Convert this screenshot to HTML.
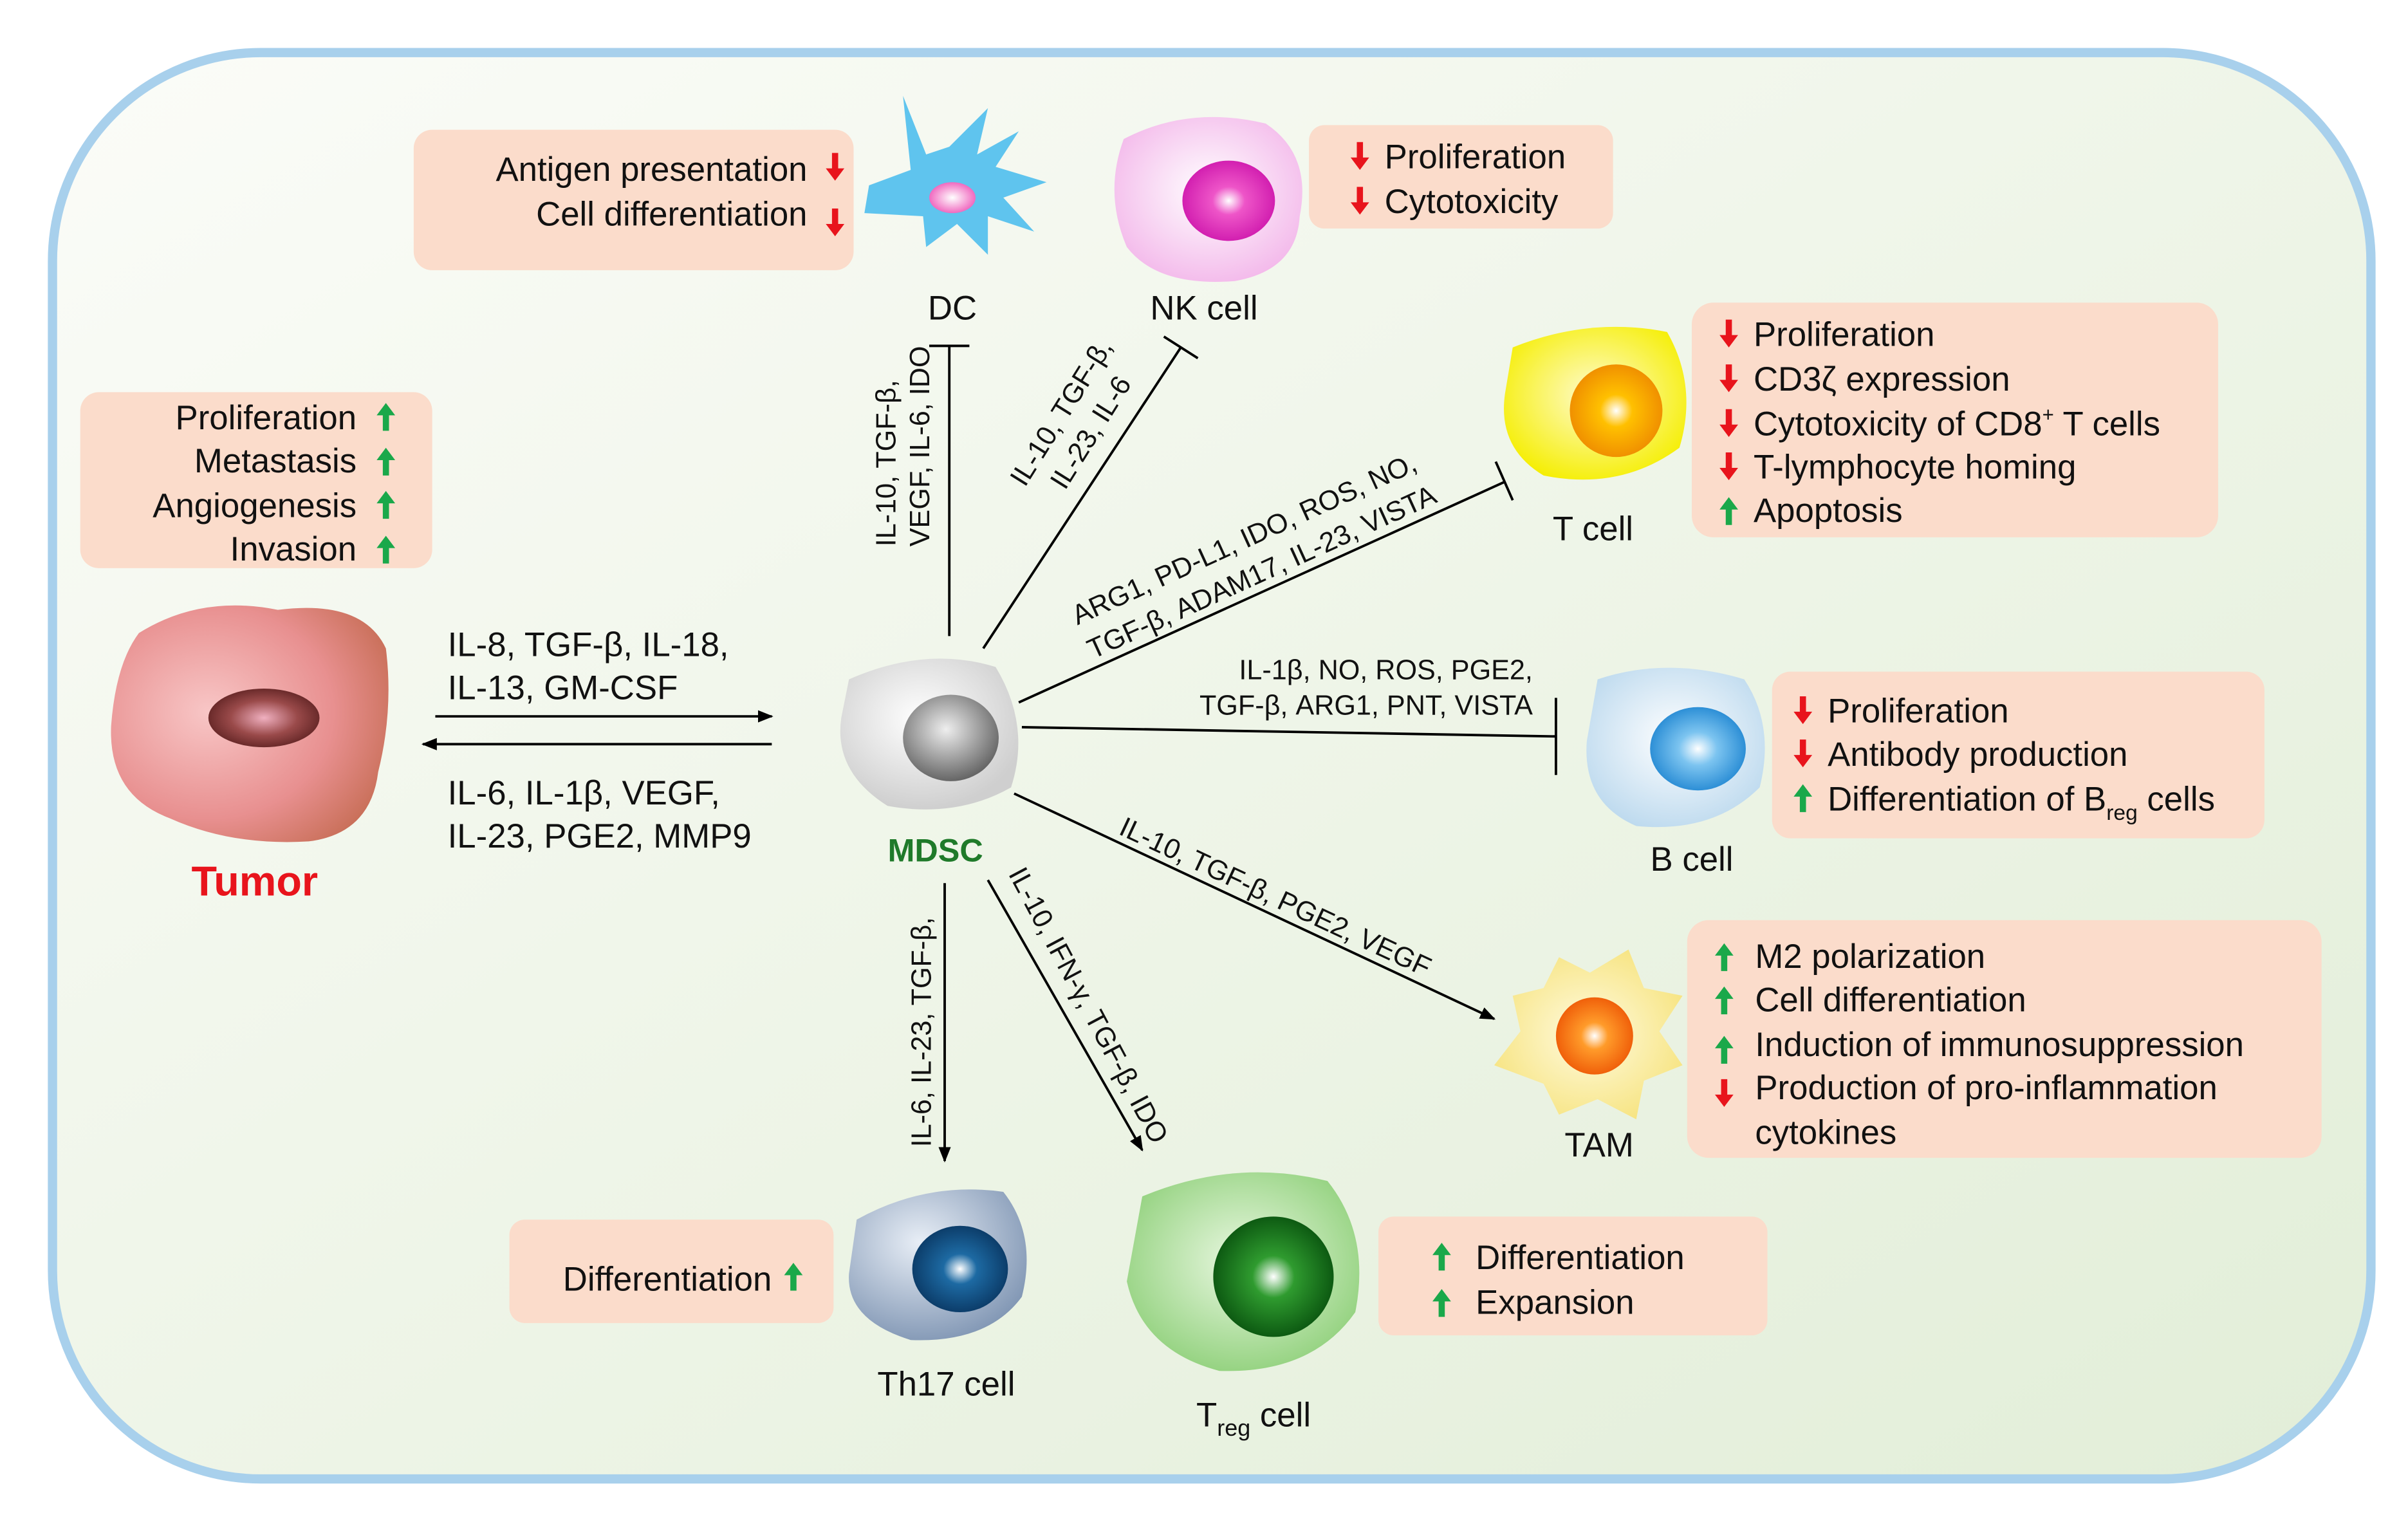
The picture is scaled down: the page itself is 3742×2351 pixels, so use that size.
<!DOCTYPE html>
<html><head><meta charset="utf-8"><style>html,body{margin:0;padding:0;background:#fff}svg{display:block}</style></head><body>
<svg xmlns="http://www.w3.org/2000/svg" width="3742" height="2351" viewBox="0 0 1560 980" font-family="Liberation Sans, Arial, sans-serif">
<defs>
<linearGradient id="bg" x1="0" y1="0" x2="1" y2="1"><stop offset="0" stop-color="#fbfcf8"/><stop offset="1" stop-color="#e2eed8"/></linearGradient>
<g id="up"><path d="M0,-9 L6,-1 L2,-1 L2,9 L-2,9 L-2,-1 L-6,-1 Z" fill="#1aa84a"/></g>
<g id="dn"><path d="M0,9 L6,1 L2,1 L2,-9 L-2,-9 L-2,1 L-6,1 Z" fill="#e8141c"/></g>
<marker id="ah" markerWidth="10" markerHeight="10" refX="9" refY="5" orient="auto" markerUnits="userSpaceOnUse"><path d="M0,1 L10,5 L0,9 Z" fill="#000"/></marker>
<radialGradient id="gMD" cx=".45" cy=".4" r=".6"><stop offset="0" stop-color="#fff"/><stop offset="1" stop-color="#cfcfcf"/></radialGradient>
<radialGradient id="nMD" cx=".45" cy=".4" r=".6"><stop offset="0" stop-color="#eee"/><stop offset="1" stop-color="#666"/></radialGradient>
<radialGradient id="gNK" cx=".5" cy=".45" r=".6"><stop offset="0" stop-color="#fff"/><stop offset="1" stop-color="#f3b7ea"/></radialGradient>
<radialGradient id="nNK" cx=".5" cy=".5" r=".5"><stop offset="0" stop-color="#fff"/><stop offset=".35" stop-color="#ee55c8"/><stop offset="1" stop-color="#d21fb0"/></radialGradient>
<radialGradient id="gT" cx=".5" cy=".45" r=".6"><stop offset="0" stop-color="#fffbd0"/><stop offset="1" stop-color="#f5ee00"/></radialGradient>
<radialGradient id="nT" cx=".5" cy=".5" r=".5"><stop offset="0" stop-color="#fff"/><stop offset=".35" stop-color="#ffc000"/><stop offset="1" stop-color="#f09000"/></radialGradient>
<radialGradient id="gB" cx=".5" cy=".45" r=".6"><stop offset="0" stop-color="#fff"/><stop offset="1" stop-color="#bcd9ee"/></radialGradient>
<radialGradient id="nB" cx=".5" cy=".5" r=".5"><stop offset="0" stop-color="#fff"/><stop offset=".4" stop-color="#7cc4f0"/><stop offset="1" stop-color="#2d8fd6"/></radialGradient>
<radialGradient id="gTAM" cx=".5" cy=".5" r=".6"><stop offset="0" stop-color="#fffbe0"/><stop offset="1" stop-color="#f6e27a"/></radialGradient>
<radialGradient id="nTAM" cx=".5" cy=".5" r=".5"><stop offset="0" stop-color="#fff"/><stop offset=".35" stop-color="#ff9b2a"/><stop offset="1" stop-color="#f0600a"/></radialGradient>
<radialGradient id="gTh" cx=".4" cy=".35" r=".7"><stop offset="0" stop-color="#e8eef6"/><stop offset="1" stop-color="#7f95b3"/></radialGradient>
<radialGradient id="nTh" cx=".5" cy=".5" r=".5"><stop offset="0" stop-color="#fff"/><stop offset=".35" stop-color="#1d6aa3"/><stop offset="1" stop-color="#0c3d6a"/></radialGradient>
<radialGradient id="gTr" cx=".5" cy=".45" r=".6"><stop offset="0" stop-color="#eaf8e2"/><stop offset="1" stop-color="#8fd07a"/></radialGradient>
<radialGradient id="nTr" cx=".5" cy=".5" r=".5"><stop offset="0" stop-color="#fff"/><stop offset=".35" stop-color="#2f9b2f"/><stop offset="1" stop-color="#0d5a12"/></radialGradient>
<radialGradient id="gTu" cx=".35" cy=".45" r=".75"><stop offset="0" stop-color="#f8c6c6"/><stop offset=".6" stop-color="#e89090"/><stop offset="1" stop-color="#c46a50"/></radialGradient>
<radialGradient id="nTu" cx=".5" cy=".5" r=".5"><stop offset="0" stop-color="#f0b0c0"/><stop offset=".6" stop-color="#9a4a4a"/><stop offset="1" stop-color="#6a2a2a"/></radialGradient>
<radialGradient id="nDC" cx=".5" cy=".5" r=".5"><stop offset="0" stop-color="#fff"/><stop offset="1" stop-color="#f06ac0"/></radialGradient>
</defs>
<rect x="0" y="0" width="1560" height="980" fill="#fff"/>
<rect x="34" y="34" width="1502" height="924" rx="135" fill="url(#bg)" stroke="#a8d0ec" stroke-width="6"/>

<!-- boxes -->
<g fill="#fbdccb">
<rect x="268" y="84" width="285" height="91" rx="12"/>
<rect x="848" y="81" width="197" height="67" rx="10"/>
<rect x="1096" y="196" width="341" height="152" rx="14"/>
<rect x="52" y="254" width="228" height="114" rx="12"/>
<rect x="1148" y="435" width="319" height="108" rx="12"/>
<rect x="1093" y="596" width="411" height="154" rx="14"/>
<rect x="330" y="790" width="210" height="67" rx="10"/>
<rect x="893" y="788" width="252" height="77" rx="10"/>
</g>

<g font-size="22" fill="#111">
<text x="523" y="117" text-anchor="end">Antigen presentation</text><use href="#dn" x="541" y="108"/>
<text x="523" y="146" text-anchor="end">Cell differentiation</text><use href="#dn" x="541" y="144"/>
<use href="#dn" x="881" y="101"/><text x="897" y="109">Proliferation</text>
<use href="#dn" x="881" y="130"/><text x="897" y="138">Cytotoxicity</text>
<use href="#dn" x="1120" y="216"/><text x="1136" y="224">Proliferation</text>
<use href="#dn" x="1120" y="245"/><text x="1136" y="253">CD3ζ expression</text>
<use href="#dn" x="1120" y="274"/><text x="1136" y="282">Cytotoxicity  of CD8<tspan font-size="13" dy="-9">+</tspan><tspan dy="9"> T cells</tspan></text>
<use href="#dn" x="1120" y="302"/><text x="1136" y="310">T-lymphocyte  homing</text>
<use href="#up" x="1120" y="331"/><text x="1136" y="338">Apoptosis</text>
<text x="231" y="278" text-anchor="end">Proliferation</text><use href="#up" x="250" y="270"/>
<text x="231" y="306" text-anchor="end">Metastasis</text><use href="#up" x="250" y="299"/>
<text x="231" y="335" text-anchor="end">Angiogenesis</text><use href="#up" x="250" y="327"/>
<text x="231" y="363" text-anchor="end">Invasion</text><use href="#up" x="250" y="356"/>
<use href="#dn" x="1168" y="460"/><text x="1184" y="468">Proliferation</text>
<use href="#dn" x="1168" y="488"/><text x="1184" y="496">Antibody production</text>
<use href="#up" x="1168" y="517"/><text x="1184" y="525">Differentiation of B<tspan font-size="14" dy="6">reg</tspan><tspan dy="-6"> cells</tspan></text>
<use href="#up" x="1117" y="620"/><text x="1137" y="627">M2 polarization</text>
<use href="#up" x="1117" y="648"/><text x="1137" y="655">Cell differentiation</text>
<use href="#up" x="1117" y="680"/><text x="1137" y="684">Induction  of immunosuppression</text>
<use href="#dn" x="1117" y="708"/><text x="1137" y="712">Production of pro-inflammation</text>
<text x="1137" y="741">cytokines</text>
<text x="500" y="836" text-anchor="end">Differentiation</text><use href="#up" x="514" y="827"/>
<use href="#up" x="934" y="814"/><text x="956" y="822">Differentiation</text>
<use href="#up" x="934" y="844"/><text x="956" y="851">Expansion</text>
</g>

<!-- connectors -->
<g stroke="#000" stroke-width="1.6" fill="none">
<line x1="615" y1="412" x2="615" y2="224"/><line x1="602" y1="224" x2="628" y2="224"/>
<line x1="637" y1="420" x2="765" y2="225"/><line x1="754" y1="218" x2="776" y2="232"/>
<line x1="660" y1="455" x2="975" y2="312"/><line x1="969" y1="299" x2="980" y2="324"/>
<line x1="662" y1="471" x2="1008" y2="477"/><line x1="1008" y1="452" x2="1008" y2="502"/>
<line x1="657" y1="514" x2="968" y2="660" marker-end="url(#ah)"/>
<line x1="612" y1="572" x2="612" y2="752" marker-end="url(#ah)"/>
<line x1="640" y1="570" x2="740" y2="745" marker-end="url(#ah)"/>
<line x1="282" y1="464" x2="500" y2="464" marker-end="url(#ah)"/>
<line x1="500" y1="482" x2="274" y2="482" marker-end="url(#ah)"/>
</g>

<g font-size="18" fill="#111">
<text transform="translate(580,354) rotate(-90)">IL-10, TGF-β,</text>
<text transform="translate(602,354) rotate(-90)">VEGF, IL-6, IDO</text>
<text transform="translate(664,316) rotate(-58)">IL-10, TGF-β,</text>
<text transform="translate(690,318) rotate(-58)">IL-23, IL-6</text>
<text transform="translate(698,405) rotate(-24.5)">ARG1, PD-L1, IDO, ROS, NO,</text>
<text transform="translate(708,427) rotate(-24.5)">TGF-β, ADAM17, IL-23, VISTA</text>
<text x="993" y="440" text-anchor="end">IL-1β,  NO, ROS, PGE2,</text>
<text x="993" y="463" text-anchor="end">TGF-β,  ARG1,  PNT,  VISTA</text>
<text transform="translate(724,540) rotate(25)">IL-10,  TGF-β,  PGE2, VEGF</text>
<text transform="translate(603,743) rotate(-90)">IL-6, IL-23, TGF-β,</text>
<text transform="translate(653,566) rotate(62)">IL-10, IFN-γ, TGF-β, IDO</text>
</g>
<g font-size="22" fill="#111">
<text x="290" y="425">IL-8, TGF-β, IL-18,</text>
<text x="290" y="453">IL-13, GM-CSF</text>
<text x="290" y="521">IL-6, IL-1β,  VEGF,</text>
<text x="290" y="549">IL-23, PGE2, MMP9</text>
<text x="617" y="207" text-anchor="middle">DC</text>
<text x="780" y="207" text-anchor="middle">NK cell</text>
<text x="1032" y="350" text-anchor="middle">T cell</text>
<text x="1096" y="564" text-anchor="middle">B cell</text>
<text x="1036" y="749" text-anchor="middle">TAM</text>
<text x="613" y="904" text-anchor="middle">Th17 cell</text>
<text x="775" y="924">T<tspan font-size="15" dy="6">reg</tspan><tspan dy="-6"> cell</tspan></text>
</g>
<text x="606" y="558" text-anchor="middle" font-size="21" font-weight="bold" fill="#1f7a2a">MDSC</text>
<text x="165" y="580" text-anchor="middle" font-size="27" font-weight="bold" fill="#e8141c">Tumor</text>

<!-- cells -->
<path d="M563,120 L590,110 L585,62 L600,100 L615,95 L640,70 L633,100 L660,85 L645,108 L678,118 L650,128 L670,150 L640,140 L640,165 L620,145 L600,160 L598,140 L560,138 Z" fill="#5fc4ee"/>
<ellipse cx="617" cy="128" rx="15" ry="10" fill="url(#nDC)"/>
<path d="M728,90 Q770,68 820,80 Q850,100 842,140 Q840,175 800,182 Q750,186 730,160 Q715,125 728,90 Z" fill="url(#gNK)"/>
<ellipse cx="796" cy="130" rx="30" ry="26" fill="url(#nNK)"/>
<path d="M980,225 Q1030,205 1080,215 Q1100,250 1088,290 Q1050,318 1000,308 Q970,290 975,255 Z" fill="url(#gT)"/>
<circle cx="1047" cy="266" r="30" fill="url(#nT)"/>
<path d="M1035,440 Q1080,425 1130,440 Q1150,470 1140,510 Q1110,540 1060,535 Q1025,520 1028,480 Z" fill="url(#gB)"/>
<ellipse cx="1100" cy="485" rx="31" ry="27" fill="url(#nB)"/>
<path d="M980,645 L1000,640 L1010,620 L1030,630 L1055,615 L1065,640 L1090,645 L1075,668 L1090,690 L1065,700 L1060,725 L1035,712 L1010,722 L1000,702 L968,690 L985,668 Z" fill="url(#gTAM)"/>
<circle cx="1033" cy="671" r="25" fill="url(#nTAM)"/>
<path d="M555,790 Q600,765 650,772 Q672,800 662,840 Q640,870 590,868 Q548,855 550,825 Z" fill="url(#gTh)"/>
<ellipse cx="622" cy="822" rx="31" ry="28" fill="url(#nTh)"/>
<path d="M740,775 Q800,750 860,765 Q888,800 878,850 Q850,890 790,888 Q740,875 730,830 Z" fill="url(#gTr)"/>
<circle cx="825" cy="827" r="39" fill="url(#nTr)"/>
<path d="M550,440 Q600,418 645,432 Q668,470 655,510 Q620,530 575,522 Q540,500 545,465 Z" fill="url(#gMD)"/>
<ellipse cx="616" cy="478" rx="31" ry="28" fill="url(#nMD)"/>
<path d="M90,410 Q130,385 180,395 Q235,388 250,420 Q255,460 245,500 Q240,540 200,545 Q150,548 110,530 Q70,515 72,470 Q75,430 90,410 Z" fill="url(#gTu)"/>
<ellipse cx="171" cy="465" rx="36" ry="19" fill="url(#nTu)"/>
</svg>
</body></html>
